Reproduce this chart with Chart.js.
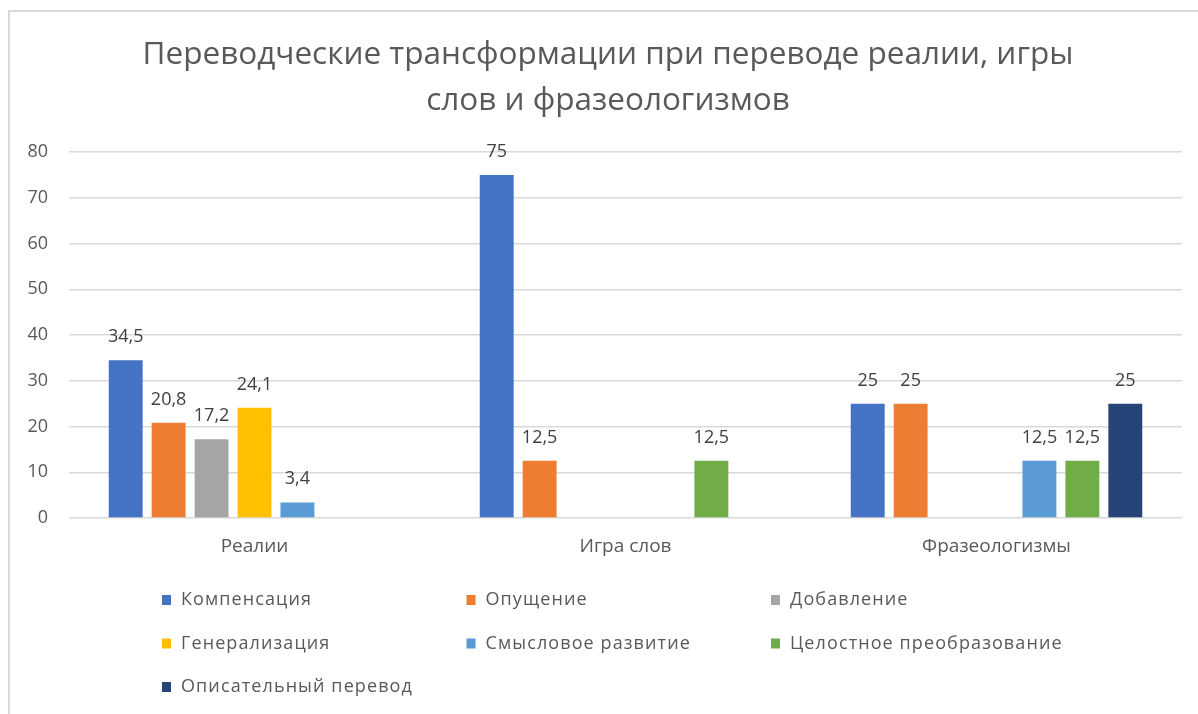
<!DOCTYPE html>
<html>
<head>
<meta charset="utf-8">
<script src="https://cdn.jsdelivr.net/npm/chart.js@4.4.1/dist/chart.umd.min.js"></script>
<style>
  html, body { margin: 0; padding: 0; background: #ffffff; }
  #wrap { position: relative; width: 1198px; height: 714px; }
</style>
</head>
<body>
<div id="wrap"><canvas id="c" width="1198" height="714"></canvas></div>
<script>
const titleLines = ['Переводческие трансформации при переводе реалии, игры', 'слов и фразеологизмов'];
const categories = ['Реалии', 'Игра слов', 'Фразеологизмы'];
const seriesNames = ['Компенсация', 'Опущение', 'Добавление', 'Генерализация', 'Смысловое развитие', 'Целостное преобразование', 'Описательный перевод'];
const seriesColors = ['#4472C4', '#ED7D31', '#A5A5A5', '#FFC000', '#5B9BD5', '#70AD47', '#264478'];
const kompensaciya = [34.5, 75, 25];
const opushchenie = [20.8, 12.5, 25];
const dobavlenie = [17.2, null, null];
const generalizaciya = [24.1, null, null];
const smyslovoe = [3.4, null, 12.5];
const celostnoe = [null, 12.5, 12.5];
const opisatelny = [null, null, 25];
const yTicks = [0, 10, 20, 30, 40, 50, 60, 70, 80];

const seriesValues = [kompensaciya, opushchenie, dobavlenie, generalizaciya, smyslovoe, celostnoe, opisatelny];
const FONT = "'Open Sans', 'Noto Sans', sans-serif";
const TEXT = '#595959';

const frame = {
  id: 'frame',
  afterLayout(chart) {
    const t = chart.titleBlock;
    if (t) { t.left = 34; t.right = chart.width - 16; t.width = t.right - t.left; }
  },
  beforeDraw(chart) {
    const ctx = chart.ctx;
    ctx.save();
    ctx.fillStyle = '#ffffff';
    ctx.fillRect(0, 0, chart.width, chart.height);
    ctx.strokeStyle = '#d9d9d9';
    ctx.lineWidth = 2;
    ctx.beginPath();
    ctx.moveTo(9, chart.height);
    ctx.lineTo(9, 11);
    ctx.lineTo(chart.width, 11);
    ctx.stroke();
    ctx.restore();
  }
};

const valueLabels = {
  id: 'valueLabels',
  afterDatasetsDraw(chart) {
    const ctx = chart.ctx;
    ctx.save();
    ctx.font = '18px ' + FONT;
    ctx.fillStyle = '#404040';
    ctx.textAlign = 'center';
    ctx.textBaseline = 'alphabetic';
    chart.data.datasets.forEach((ds, i) => {
      const meta = chart.getDatasetMeta(i);
      meta.data.forEach((el, j) => {
        const v = ds.data[j];
        if (v === null || v === undefined) return;
        ctx.fillText(String(v).replace('.', ','), el.x, el.y - 18);
      });
    });
    ctx.restore();
  }
};

const gridLegend = {
  id: 'gridLegend',
  afterDraw(chart) {
    const ctx = chart.ctx;
    ctx.save();
    ctx.font = '18px ' + FONT;
    ctx.letterSpacing = '1.1px';
    ctx.textBaseline = 'middle';
    ctx.textAlign = 'left';
    const x0 = 162, colW = 304.5, y0 = 600, rowH = 43.5;
    chart.data.datasets.forEach((ds, i) => {
      const col = i % 3, row = Math.floor(i / 3);
      const x = x0 + col * colW, y = y0 + row * rowH;
      ctx.fillStyle = ds.backgroundColor;
      ctx.fillRect(x, y - 5, 9, 10);
      ctx.fillStyle = TEXT;
      ctx.fillText(ds.label, x + 19, y);
    });
    ctx.restore();
  }
};

new Chart(document.getElementById('c'), {
  type: 'bar',
  data: {
    labels: categories,
    datasets: seriesNames.map((name, i) => ({
      label: name,
      data: seriesValues[i],
      backgroundColor: seriesColors[i],
      borderWidth: 0,
      categoryPercentage: 0.81,
      barPercentage: 0.79
    }))
  },
  options: {
    responsive: false,
    animation: false,
    layout: { padding: { left: 0, right: 16, top: 0, bottom: 0 } },
    plugins: {
      legend: { display: false },
      tooltip: { enabled: false },
      title: {
        display: true,
        text: titleLines,
        color: TEXT,
        font: { family: FONT, size: 31.5, weight: 'normal', lineHeight: 1.43 },
        padding: { top: 33, bottom: 29 }
      }
    },
    scales: {
      x: {
        grid: { display: false, drawTicks: false },
        border: { display: false },
        ticks: { color: TEXT, font: { family: FONT, size: 19 }, padding: 17 },
        afterFit(scale) { scale.height = 196; }
      },
      y: {
        min: 0,
        max: 80,
        afterBuildTicks(scale) { scale.ticks = yTicks.map(v => ({ value: v })); },
        grid: { color: '#d9d9d9', lineWidth: 1.5, drawTicks: false },
        border: { display: false },
        ticks: { color: TEXT, font: { family: FONT, size: 18 }, padding: 21 },
        afterFit(scale) { scale.width = 69; }
      }
    }
  },
  plugins: [frame, valueLabels, gridLegend]
});
</script>
</body>
</html>
